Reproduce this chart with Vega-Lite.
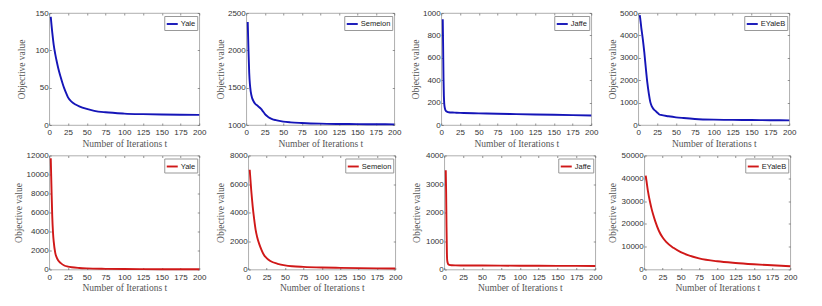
{
"$schema": "https://vega.github.io/schema/vega-lite/v6.json",
"padding": {"left": 13.25, "top": 8, "right": 5, "bottom": 5},
"autosize": {"type": "pad"},
"bounds": "full",
"align": "none",
"columns": 1,
"spacing": 2.5,
"datasets": {
"aYale": [{"t":2,"v":145,"d":"Yale"},{"t":3,"v":134,"d":"Yale"},{"t":4,"v":124,"d":"Yale"},{"t":5,"v":115,"d":"Yale"},{"t":6,"v":107,"d":"Yale"},{"t":8,"v":95,"d":"Yale"},{"t":10,"v":85,"d":"Yale"},{"t":12,"v":76,"d":"Yale"},{"t":15,"v":65,"d":"Yale"},{"t":18,"v":55,"d":"Yale"},{"t":20,"v":49,"d":"Yale"},{"t":22,"v":44,"d":"Yale"},{"t":25,"v":37,"d":"Yale"},{"t":30,"v":31,"d":"Yale"},{"t":35,"v":27.5,"d":"Yale"},{"t":40,"v":25,"d":"Yale"},{"t":50,"v":21.5,"d":"Yale"},{"t":60,"v":19,"d":"Yale"},{"t":75,"v":17,"d":"Yale"},{"t":100,"v":15.3,"d":"Yale"},{"t":125,"v":14.5,"d":"Yale"},{"t":150,"v":14,"d":"Yale"},{"t":175,"v":13.7,"d":"Yale"},{"t":200,"v":13.5,"d":"Yale"}],
"aSemeion": [{"t":2,"v":2380,"d":"Semeion"},{"t":3,"v":2000,"d":"Semeion"},{"t":4,"v":1700,"d":"Semeion"},{"t":5,"v":1540,"d":"Semeion"},{"t":6,"v":1450,"d":"Semeion"},{"t":8,"v":1360,"d":"Semeion"},{"t":10,"v":1315,"d":"Semeion"},{"t":12,"v":1285,"d":"Semeion"},{"t":15,"v":1260,"d":"Semeion"},{"t":18,"v":1235,"d":"Semeion"},{"t":20,"v":1215,"d":"Semeion"},{"t":22,"v":1190,"d":"Semeion"},{"t":25,"v":1150,"d":"Semeion"},{"t":28,"v":1120,"d":"Semeion"},{"t":30,"v":1105,"d":"Semeion"},{"t":35,"v":1080,"d":"Semeion"},{"t":40,"v":1065,"d":"Semeion"},{"t":50,"v":1045,"d":"Semeion"},{"t":60,"v":1035,"d":"Semeion"},{"t":75,"v":1027,"d":"Semeion"},{"t":100,"v":1018,"d":"Semeion"},{"t":125,"v":1014,"d":"Semeion"},{"t":150,"v":1012,"d":"Semeion"},{"t":175,"v":1010,"d":"Semeion"},{"t":200,"v":1009,"d":"Semeion"}],
"aJaffe": [{"t":2,"v":945,"d":"Jaffe"},{"t":2.5,"v":700,"d":"Jaffe"},{"t":3,"v":420,"d":"Jaffe"},{"t":3.5,"v":260,"d":"Jaffe"},{"t":4,"v":190,"d":"Jaffe"},{"t":5,"v":145,"d":"Jaffe"},{"t":6,"v":128,"d":"Jaffe"},{"t":8,"v":118,"d":"Jaffe"},{"t":10,"v":114,"d":"Jaffe"},{"t":15,"v":111,"d":"Jaffe"},{"t":20,"v":110,"d":"Jaffe"},{"t":30,"v":107,"d":"Jaffe"},{"t":50,"v":104,"d":"Jaffe"},{"t":75,"v":100,"d":"Jaffe"},{"t":100,"v":97,"d":"Jaffe"},{"t":125,"v":94,"d":"Jaffe"},{"t":150,"v":91,"d":"Jaffe"},{"t":175,"v":88,"d":"Jaffe"},{"t":200,"v":85,"d":"Jaffe"}],
"aEYaleB": [{"t":2,"v":4900,"d":"EYaleB"},{"t":3,"v":4650,"d":"EYaleB"},{"t":4,"v":4350,"d":"EYaleB"},{"t":5,"v":4100,"d":"EYaleB"},{"t":6,"v":3850,"d":"EYaleB"},{"t":8,"v":3250,"d":"EYaleB"},{"t":10,"v":2550,"d":"EYaleB"},{"t":12,"v":1900,"d":"EYaleB"},{"t":14,"v":1400,"d":"EYaleB"},{"t":16,"v":1020,"d":"EYaleB"},{"t":18,"v":830,"d":"EYaleB"},{"t":20,"v":720,"d":"EYaleB"},{"t":22,"v":650,"d":"EYaleB"},{"t":25,"v":560,"d":"EYaleB"},{"t":28,"v":470,"d":"EYaleB"},{"t":30,"v":450,"d":"EYaleB"},{"t":40,"v":390,"d":"EYaleB"},{"t":50,"v":342,"d":"EYaleB"},{"t":60,"v":310,"d":"EYaleB"},{"t":75,"v":270,"d":"EYaleB"},{"t":100,"v":238,"d":"EYaleB"},{"t":125,"v":228,"d":"EYaleB"},{"t":150,"v":223,"d":"EYaleB"},{"t":175,"v":215,"d":"EYaleB"},{"t":200,"v":208,"d":"EYaleB"}],
"bYale": [{"t":2,"v":11700,"d":"Yale"},{"t":3,"v":8500,"d":"Yale"},{"t":4,"v":5600,"d":"Yale"},{"t":5,"v":3900,"d":"Yale"},{"t":6,"v":2900,"d":"Yale"},{"t":8,"v":1750,"d":"Yale"},{"t":10,"v":1250,"d":"Yale"},{"t":12,"v":950,"d":"Yale"},{"t":15,"v":700,"d":"Yale"},{"t":20,"v":420,"d":"Yale"},{"t":25,"v":310,"d":"Yale"},{"t":30,"v":240,"d":"Yale"},{"t":40,"v":165,"d":"Yale"},{"t":50,"v":120,"d":"Yale"},{"t":75,"v":70,"d":"Yale"},{"t":100,"v":45,"d":"Yale"},{"t":125,"v":35,"d":"Yale"},{"t":150,"v":30,"d":"Yale"},{"t":175,"v":27,"d":"Yale"},{"t":200,"v":25,"d":"Yale"}],
"bSemeion": [{"t":2,"v":7000,"d":"Semeion"},{"t":3,"v":6300,"d":"Semeion"},{"t":4,"v":5600,"d":"Semeion"},{"t":5,"v":5000,"d":"Semeion"},{"t":6,"v":4450,"d":"Semeion"},{"t":8,"v":3550,"d":"Semeion"},{"t":10,"v":2800,"d":"Semeion"},{"t":12,"v":2300,"d":"Semeion"},{"t":15,"v":1780,"d":"Semeion"},{"t":18,"v":1380,"d":"Semeion"},{"t":21,"v":1050,"d":"Semeion"},{"t":25,"v":800,"d":"Semeion"},{"t":30,"v":600,"d":"Semeion"},{"t":40,"v":400,"d":"Semeion"},{"t":50,"v":290,"d":"Semeion"},{"t":60,"v":230,"d":"Semeion"},{"t":75,"v":185,"d":"Semeion"},{"t":100,"v":140,"d":"Semeion"},{"t":125,"v":115,"d":"Semeion"},{"t":150,"v":95,"d":"Semeion"},{"t":175,"v":80,"d":"Semeion"},{"t":200,"v":70,"d":"Semeion"}],
"bJaffe": [{"t":2,"v":3480,"d":"Jaffe"},{"t":2.5,"v":2700,"d":"Jaffe"},{"t":3,"v":1500,"d":"Jaffe"},{"t":3.5,"v":600,"d":"Jaffe"},{"t":4,"v":300,"d":"Jaffe"},{"t":5,"v":200,"d":"Jaffe"},{"t":6,"v":170,"d":"Jaffe"},{"t":8,"v":155,"d":"Jaffe"},{"t":10,"v":150,"d":"Jaffe"},{"t":15,"v":145,"d":"Jaffe"},{"t":25,"v":142,"d":"Jaffe"},{"t":50,"v":138,"d":"Jaffe"},{"t":100,"v":133,"d":"Jaffe"},{"t":150,"v":128,"d":"Jaffe"},{"t":200,"v":124,"d":"Jaffe"}],
"bEYaleB": [{"t":2,"v":41200,"d":"EYaleB"},{"t":3,"v":39000,"d":"EYaleB"},{"t":5,"v":34500,"d":"EYaleB"},{"t":8,"v":29500,"d":"EYaleB"},{"t":10,"v":26700,"d":"EYaleB"},{"t":12,"v":24300,"d":"EYaleB"},{"t":15,"v":21200,"d":"EYaleB"},{"t":20,"v":17000,"d":"EYaleB"},{"t":25,"v":14100,"d":"EYaleB"},{"t":30,"v":12100,"d":"EYaleB"},{"t":40,"v":9500,"d":"EYaleB"},{"t":50,"v":7600,"d":"EYaleB"},{"t":60,"v":6300,"d":"EYaleB"},{"t":75,"v":4900,"d":"EYaleB"},{"t":100,"v":3600,"d":"EYaleB"},{"t":125,"v":2850,"d":"EYaleB"},{"t":150,"v":2300,"d":"EYaleB"},{"t":175,"v":1850,"d":"EYaleB"},{"t":200,"v":1400,"d":"EYaleB"}]
},
"concat": [
{"hconcat": [
{"width": 150, "height": 112, "data": {"name": "aYale"},
 "layer": [
  {"mark": {"type": "line", "interpolate": "monotone"}, "encoding": {
   "x": {"field": "t", "type": "quantitative", "scale": {"domain": [0, 200], "nice": false}, "axis": {"values": [0,25,50,75,100,125,150,175,200], "title": "Number of Iterations t"}},
   "y": {"field": "v", "type": "quantitative", "scale": {"domain": [0, 150], "nice": false, "zero": false}, "axis": {"values": [0,50,100,150], "title": "Objective value", "titleX": -28}},
   "color": {"field": "d", "type": "nominal", "scale": {"domain": ["Yale"], "range": ["#1515b8"]}, "legend": {"title": null}}}},
  {"mark": {"type": "line", "opacity": 0}, "encoding": {
   "x": {"field": "t", "type": "quantitative", "axis": {"orient": "top", "values": [0,25,50,75,100,125,150,175,200], "labels": false, "title": null}},
   "y": {"field": "v", "type": "quantitative", "axis": {"orient": "right", "values": [0,50,100,150], "labels": false, "title": null}}}}
 ],
 "resolve": {"axis": {"x": "independent", "y": "independent"}}},
{"width": 148, "height": 112, "data": {"name": "aSemeion"},
 "layer": [
  {"mark": {"type": "line", "interpolate": "monotone"}, "encoding": {
   "x": {"field": "t", "type": "quantitative", "scale": {"domain": [0, 200], "nice": false}, "axis": {"values": [0,25,50,75,100,125,150,175,200], "title": "Number of Iterations t"}},
   "y": {"field": "v", "type": "quantitative", "scale": {"domain": [1000, 2500], "nice": false, "zero": false}, "axis": {"values": [1000,1500,2000,2500], "title": "Objective value", "titleX": -26}},
   "color": {"field": "d", "type": "nominal", "scale": {"domain": ["Semeion"], "range": ["#1515b8"]}, "legend": {"title": null}}}},
  {"mark": {"type": "line", "opacity": 0}, "encoding": {
   "x": {"field": "t", "type": "quantitative", "axis": {"orient": "top", "values": [0,25,50,75,100,125,150,175,200], "labels": false, "title": null}},
   "y": {"field": "v", "type": "quantitative", "axis": {"orient": "right", "values": [1000,1500,2000,2500], "labels": false, "title": null}}}}
 ],
 "resolve": {"axis": {"x": "independent", "y": "independent"}}},
{"width": 150, "height": 112, "data": {"name": "aJaffe"},
 "layer": [
  {"mark": {"type": "line", "interpolate": "monotone"}, "encoding": {
   "x": {"field": "t", "type": "quantitative", "scale": {"domain": [0, 200], "nice": false}, "axis": {"values": [0,25,50,75,100,125,150,175,200], "title": "Number of Iterations t"}},
   "y": {"field": "v", "type": "quantitative", "scale": {"domain": [0, 1000], "nice": false, "zero": false}, "axis": {"values": [0,200,400,600,800,1000], "title": "Objective value", "titleX": -26}},
   "color": {"field": "d", "type": "nominal", "scale": {"domain": ["Jaffe"], "range": ["#1515b8"]}, "legend": {"title": null}}}},
  {"mark": {"type": "line", "opacity": 0}, "encoding": {
   "x": {"field": "t", "type": "quantitative", "axis": {"orient": "top", "values": [0,25,50,75,100,125,150,175,200], "labels": false, "title": null}},
   "y": {"field": "v", "type": "quantitative", "axis": {"orient": "right", "values": [0,200,400,600,800,1000], "labels": false, "title": null}}}}
 ],
 "resolve": {"axis": {"x": "independent", "y": "independent"}}},
{"width": 151, "height": 112, "data": {"name": "aEYaleB"},
 "layer": [
  {"mark": {"type": "line", "interpolate": "monotone"}, "encoding": {
   "x": {"field": "t", "type": "quantitative", "scale": {"domain": [0, 200], "nice": false}, "axis": {"values": [0,25,50,75,100,125,150,175,200], "title": "Number of Iterations t"}},
   "y": {"field": "v", "type": "quantitative", "scale": {"domain": [0, 5000], "nice": false, "zero": false}, "axis": {"values": [0,1000,2000,3000,4000,5000], "title": "Objective value", "titleX": -26}},
   "color": {"field": "d", "type": "nominal", "scale": {"domain": ["EYaleB"], "range": ["#1515b8"]}, "legend": {"title": null}}}},
  {"mark": {"type": "line", "opacity": 0}, "encoding": {
   "x": {"field": "t", "type": "quantitative", "axis": {"orient": "top", "values": [0,25,50,75,100,125,150,175,200], "labels": false, "title": null}},
   "y": {"field": "v", "type": "quantitative", "axis": {"orient": "right", "values": [0,1000,2000,3000,4000,5000], "labels": false, "title": null}}}}
 ],
 "resolve": {"axis": {"x": "independent", "y": "independent"}}}
], "spacing": 47, "bounds": "flush",
 "resolve": {"scale": {"x": "independent", "y": "independent", "color": "independent"}, "legend": {"color": "independent"}}},
{"hconcat": [
{"width": 150, "height": 114, "data": {"name": "bYale"},
 "layer": [
  {"mark": {"type": "line", "interpolate": "monotone"}, "encoding": {
   "x": {"field": "t", "type": "quantitative", "scale": {"domain": [0, 200], "nice": false}, "axis": {"values": [0,25,50,75,100,125,150,175,200], "title": "Number of Iterations t"}},
   "y": {"field": "v", "type": "quantitative", "scale": {"domain": [0, 12000], "nice": false, "zero": false}, "axis": {"values": [0,2000,4000,6000,8000,10000,12000], "title": "Objective value", "titleX": -30.5}},
   "color": {"field": "d", "type": "nominal", "scale": {"domain": ["Yale"], "range": ["#d01818"]}, "legend": {"title": null}}}},
  {"mark": {"type": "line", "opacity": 0}, "encoding": {
   "x": {"field": "t", "type": "quantitative", "axis": {"orient": "top", "values": [0,25,50,75,100,125,150,175,200], "labels": false, "title": null}},
   "y": {"field": "v", "type": "quantitative", "axis": {"orient": "right", "values": [0,2000,4000,6000,8000,10000,12000], "labels": false, "title": null}}}}
 ],
 "resolve": {"axis": {"x": "independent", "y": "independent"}}},
{"width": 147, "height": 114, "data": {"name": "bSemeion"},
 "layer": [
  {"mark": {"type": "line", "interpolate": "monotone"}, "encoding": {
   "x": {"field": "t", "type": "quantitative", "scale": {"domain": [0, 200], "nice": false}, "axis": {"values": [0,25,50,75,100,125,150,175,200], "title": "Number of Iterations t"}},
   "y": {"field": "v", "type": "quantitative", "scale": {"domain": [0, 8000], "nice": false, "zero": false}, "axis": {"values": [0,2000,4000,6000,8000], "title": "Objective value", "titleX": -27.7}},
   "color": {"field": "d", "type": "nominal", "scale": {"domain": ["Semeion"], "range": ["#d01818"]}, "legend": {"title": null}}}},
  {"mark": {"type": "line", "opacity": 0}, "encoding": {
   "x": {"field": "t", "type": "quantitative", "axis": {"orient": "top", "values": [0,25,50,75,100,125,150,175,200], "labels": false, "title": null}},
   "y": {"field": "v", "type": "quantitative", "axis": {"orient": "right", "values": [0,2000,4000,6000,8000], "labels": false, "title": null}}}}
 ],
 "resolve": {"axis": {"x": "independent", "y": "independent"}}},
{"width": 151, "height": 114, "data": {"name": "bJaffe"},
 "layer": [
  {"mark": {"type": "line", "interpolate": "monotone"}, "encoding": {
   "x": {"field": "t", "type": "quantitative", "scale": {"domain": [0, 200], "nice": false}, "axis": {"values": [0,25,50,75,100,125,150,175,200], "title": "Number of Iterations t"}},
   "y": {"field": "v", "type": "quantitative", "scale": {"domain": [0, 4000], "nice": false, "zero": false}, "axis": {"values": [0,1000,2000,3000,4000], "title": "Objective value", "titleX": -28}},
   "color": {"field": "d", "type": "nominal", "scale": {"domain": ["Jaffe"], "range": ["#d01818"]}, "legend": {"title": null}}}},
  {"mark": {"type": "line", "opacity": 0}, "encoding": {
   "x": {"field": "t", "type": "quantitative", "axis": {"orient": "top", "values": [0,25,50,75,100,125,150,175,200], "labels": false, "title": null}},
   "y": {"field": "v", "type": "quantitative", "axis": {"orient": "right", "values": [0,1000,2000,3000,4000], "labels": false, "title": null}}}}
 ],
 "resolve": {"axis": {"x": "independent", "y": "independent"}}},
{"width": 146, "height": 114, "data": {"name": "bEYaleB"},
 "layer": [
  {"mark": {"type": "line", "interpolate": "monotone"}, "encoding": {
   "x": {"field": "t", "type": "quantitative", "scale": {"domain": [0, 200], "nice": false}, "axis": {"values": [0,25,50,75,100,125,150,175,200], "title": "Number of Iterations t"}},
   "y": {"field": "v", "type": "quantitative", "scale": {"domain": [0, 50000], "nice": false, "zero": false}, "axis": {"values": [0,10000,20000,30000,40000,50000], "title": "Objective value", "titleX": -31.3}},
   "color": {"field": "d", "type": "nominal", "scale": {"domain": ["EYaleB"], "range": ["#d01818"]}, "legend": {"title": null}}}},
  {"mark": {"type": "line", "opacity": 0}, "encoding": {
   "x": {"field": "t", "type": "quantitative", "axis": {"orient": "top", "values": [0,25,50,75,100,125,150,175,200], "labels": false, "title": null}},
   "y": {"field": "v", "type": "quantitative", "axis": {"orient": "right", "values": [0,10000,20000,30000,40000,50000], "labels": false, "title": null}}}}
 ],
 "resolve": {"axis": {"x": "independent", "y": "independent"}}}
], "spacing": 49, "bounds": "flush",
 "resolve": {"scale": {"x": "independent", "y": "independent", "color": "independent"}, "legend": {"color": "independent"}}}
],
"resolve": {"scale": {"x": "independent", "y": "independent", "color": "independent"}, "legend": {"color": "independent"}},
"config": {
 "background": "white",
 "view": {"stroke": "#9a9a9a", "strokeWidth": 0.8},
 "line": {"strokeWidth": 1.9},
 "axis": {"domain": false, "grid": false, "tickSize": -2, "tickColor": "#666", "tickWidth": 0.7, "format": "d",
   "labelFlush": false, "labelOverlap": false,
   "labelFont": "Liberation Sans", "labelFontSize": 8, "labelColor": "#333", "labelPadding": 3,
   "titleFont": "Liberation Serif", "titleFontSize": 9.5, "titleFontWeight": "normal", "titleColor": "#555"},
 "axisX": {"titleY": 21, "titleBaseline": "alphabetic", "labelPadding": 5.5},
 "axisY": {"titleBaseline": "middle"},
 "legend": {"orient": "top-right", "offset": 2.5, "padding": 1.5, "strokeColor": "#999", "fillColor": "white",
   "symbolType": "stroke", "symbolSize": 121, "symbolStrokeWidth": 1.9, "labelFont": "Liberation Sans",
   "labelFontSize": 7.5, "labelColor": "#222", "labelOffset": 2, "rowPadding": 0}
}
}
